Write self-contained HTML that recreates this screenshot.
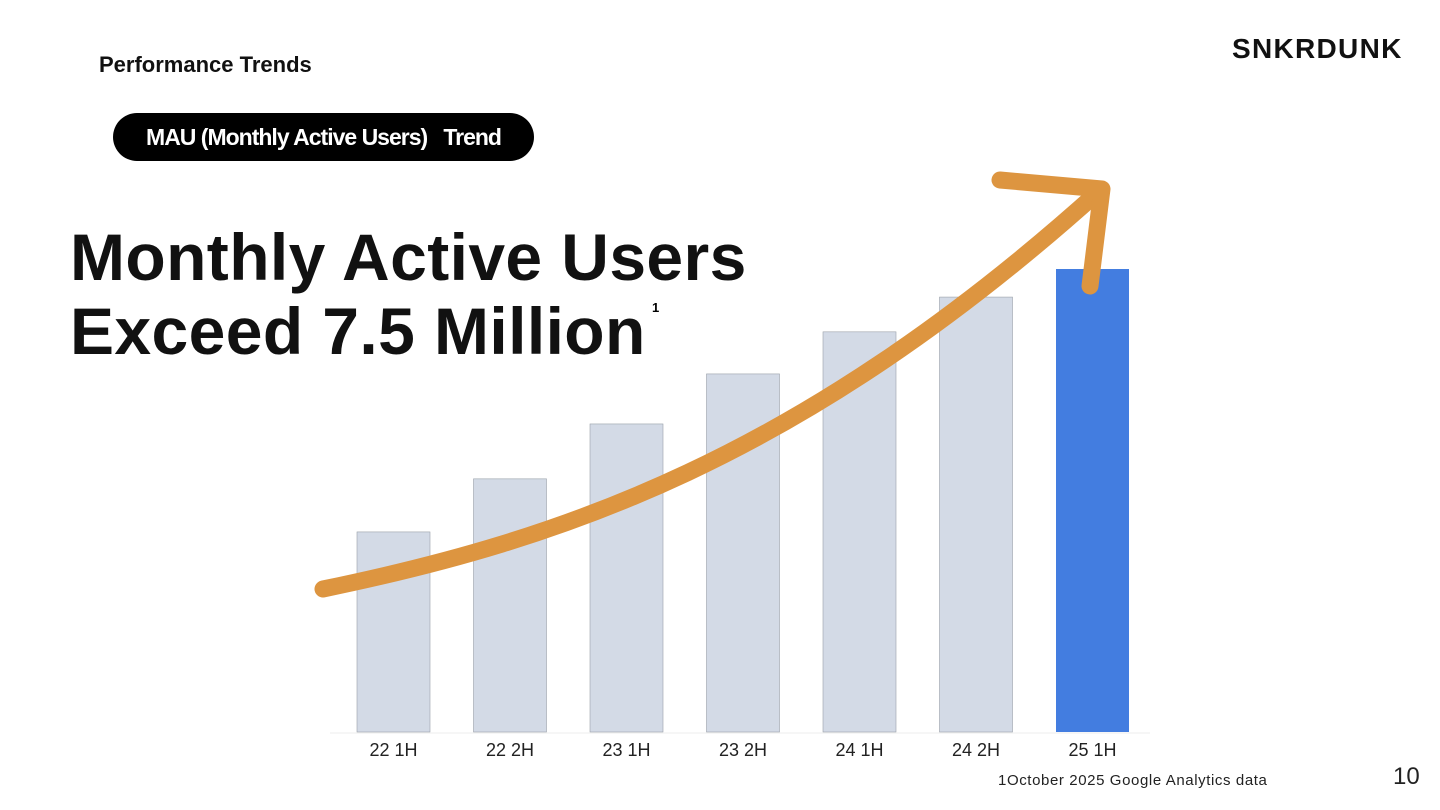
<!DOCTYPE html>
<html><head><meta charset="utf-8"><style>
body{margin:0;width:1440px;height:810px;background:#fff;font-family:"Liberation Sans","Noto Sans CJK JP",sans-serif;overflow:hidden;position:relative}
.abs{position:absolute}
</style></head><body>
<div class="abs" style="left:99px;top:52px;font-size:22px;font-weight:bold;color:#111">Performance Trends</div>
<div class="abs" style="left:1232px;top:33px;font-size:28px;font-weight:900;letter-spacing:1.3px;color:#111">SNKRDUNK</div>
<div class="abs" style="left:113px;top:113px;width:421px;height:48px;border-radius:24px;background:#000;color:#fff;font-size:23px;font-weight:bold;line-height:48px;text-align:center;letter-spacing:-1px">MAU (Monthly Active Users)&nbsp;&nbsp;&nbsp;Trend</div>
<div class="abs" style="left:70px;top:220px;font-size:66px;font-weight:bold;line-height:74px;color:#111;letter-spacing:0.4px">Monthly Active Users<br>Exceed 7.5 Million</div>
<div class="abs" style="left:652px;top:300px;font-size:13px;font-weight:bold">1</div>
<svg class="abs" style="left:0;top:0" width="1440" height="810">
<g id="bars"></g>
<g id="labels"></g>
<line x1="330" y1="733" x2="1150" y2="733" stroke="#eee" stroke-width="1"/>
<g fill="none" stroke="#DD9540" stroke-width="17" stroke-linecap="round" stroke-linejoin="round">
<path d="M323,589 C560,540 800,460 1098,192"/>
<path d="M1000,180 L1102,189 L1090,286"/>
</g>
</svg>
<div class="abs" style="left:998px;top:772px;font-size:15px;letter-spacing:0.6px;color:#222">1October 2025 Google Analytics data</div>
<div class="abs" style="left:1393px;top:763px;font-size:24px;color:#222">10</div>
<script>
const categories=["22 1H","22 2H","23 1H","23 2H","24 1H","24 2H","25 1H"];
const mauValues=[3.28,4.15,5.05,5.87,6.56,7.13,7.59];
const highlight=[false,false,false,false,false,false,true];
const ns="http://www.w3.org/2000/svg";
const base=732, pxPerUnit=61, x0=357, step=116.5, bw=73;
const xPos=i=>x0+i*step, yPos=v=>base-v*pxPerUnit;
const gb=document.getElementById('bars'), gl=document.getElementById('labels');
categories.forEach((c,i)=>{
 const r=document.createElementNS(ns,'rect');
 r.setAttribute('x',xPos(i));r.setAttribute('y',yPos(mauValues[i]));
 r.setAttribute('width',bw);r.setAttribute('height',base-yPos(mauValues[i]));
 r.setAttribute('fill',highlight[i]?'#437DE0':'#D3DAE6');
 if(!highlight[i]){r.setAttribute('stroke','#9aa0a8');r.setAttribute('stroke-width','0.6');}
 
 
 gb.appendChild(r);
 const t=document.createElementNS(ns,'text');
 t.setAttribute('x',xPos(i)+bw/2);t.setAttribute('y',756);
 t.setAttribute('text-anchor','middle');t.setAttribute('font-size','18');t.setAttribute('fill','#222');
 t.setAttribute('font-family','Liberation Sans, sans-serif');
 t.textContent=c;
 
 
 gl.appendChild(t);
});
</script>
</body></html>
